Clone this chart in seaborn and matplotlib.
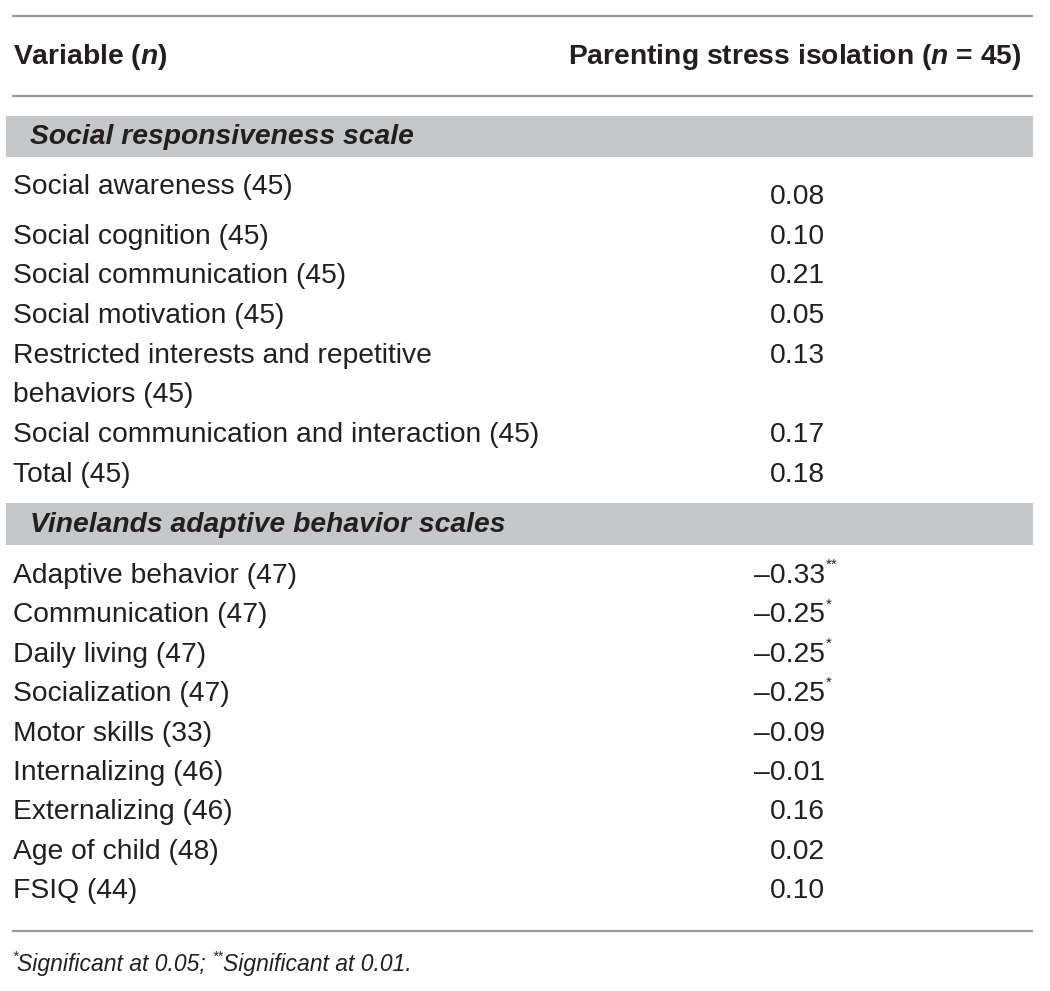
import matplotlib
matplotlib.use("Agg")
import matplotlib.pyplot as plt
import seaborn as sns

# table content
col_header = "Variable ($\\it{n}$)"
val_header = "Parenting stress isolation ($\\it{n}$ = 45)"

srs_title = "Social responsiveness scale"
srs_labels = ["Social awareness (45)", "Social cognition (45)", "Social communication (45)",
              "Social motivation (45)", "Restricted interests and repetitive\nbehaviors (45)",
              "Social communication and interaction (45)", "Total (45)"]
srs_values = [0.08, 0.10, 0.21, 0.05, 0.13, 0.17, 0.18]
srs_sig = ["", "", "", "", "", "", ""]

vab_title = "Vinelands adaptive behavior scales"
vab_labels = ["Adaptive behavior (47)", "Communication (47)", "Daily living (47)",
              "Socialization (47)", "Motor skills (33)", "Internalizing (46)",
              "Externalizing (46)", "Age of child (48)", "FSIQ (44)"]
vab_values = [-0.33, -0.25, -0.25, -0.25, -0.09, -0.01, 0.16, 0.02, 0.10]
vab_sig = ["**", "*", "*", "*", "", "", "", "", ""]

footnote_parts = [("*", True), ("Significant at 0.05; ", False), ("**", True), ("Significant at 0.01.", False)]

sns.set_theme(style="white")
plt.rcParams["font.family"] = ["Liberation Sans", "DejaVu Sans"]
plt.rcParams["mathtext.fontset"] = "custom"
plt.rcParams["mathtext.it"] = "Liberation Sans:italic:bold"
plt.rcParams["mathtext.bf"] = "Liberation Sans:bold"
plt.rcParams["mathtext.rm"] = "Liberation Sans:bold"

TXT = "#231f20"
RULE = "#9a9a9a"
BAND = "#c6c7c9"
FS = 20.3

fig = plt.figure(figsize=(10.5, 9.91), dpi=100)
ax = fig.add_axes([0, 0, 1, 1])
ax.set_xlim(0, 1050)
ax.set_ylim(991, 0)
ax.axis("off")

x_lab = 13
x_val = 825


def fmt(v):
    s = f"{abs(v):.2f}"
    return ("\u2013" + s) if v < 0 else s


def draw_section(title, y_band, h_band, labels, values, sig, y0, pitch, first_shift=0):
    ax.fill_between([6, 1033], y_band, y_band + h_band, color=BAND, lw=0)
    ax.text(30, y_band + h_band / 2 + 1, title, fontsize=FS, fontweight="bold", fontstyle="italic",
            color=TXT, va="center", ha="left")
    y = y0
    for i, (lab, v, s) in enumerate(zip(labels, values, sig)):
        lines = lab.split("\n")
        for k, line in enumerate(lines):
            ly = y + k * pitch + (first_shift if i == 0 else 0)
            ax.text(x_lab, ly, line, fontsize=FS, color=TXT, va="center", ha="left")
        t = ax.text(x_val, y, fmt(v), fontsize=FS, color=TXT, va="center", ha="right")
        if s:
            ax.text(x_val + 1, y - 11, s, fontsize=11, color=TXT, va="center", ha="left")
        y += pitch * len(lines)


# rules
for yy in [16, 96, 931]:
    ax.plot([12, 1033], [yy, yy], color=RULE, lw=1.6, solid_capstyle="butt")

ax.text(x_lab, 57, col_header, fontsize=FS, fontweight="bold", color=TXT, va="center", ha="left")
ax.text(1022, 57, val_header, fontsize=FS, fontweight="bold", color=TXT, va="center", ha="right")

draw_section(srs_title, 116, 41, srs_labels, srs_values, srs_sig, 197, 39.7, first_shift=-10)
draw_section(vab_title, 503, 42, vab_labels, vab_values, vab_sig, 576, 39.4)

# footnote
xf = 12
for part, sup in footnote_parts:
    t = ax.text(xf, 957 if sup else 964, part, fontsize=10 if sup else 16.5, fontstyle="italic",
                color=TXT, va="center", ha="left")
    fig.canvas.draw()
    xf += t.get_window_extent().width

fig.savefig("out.png", dpi=100)
